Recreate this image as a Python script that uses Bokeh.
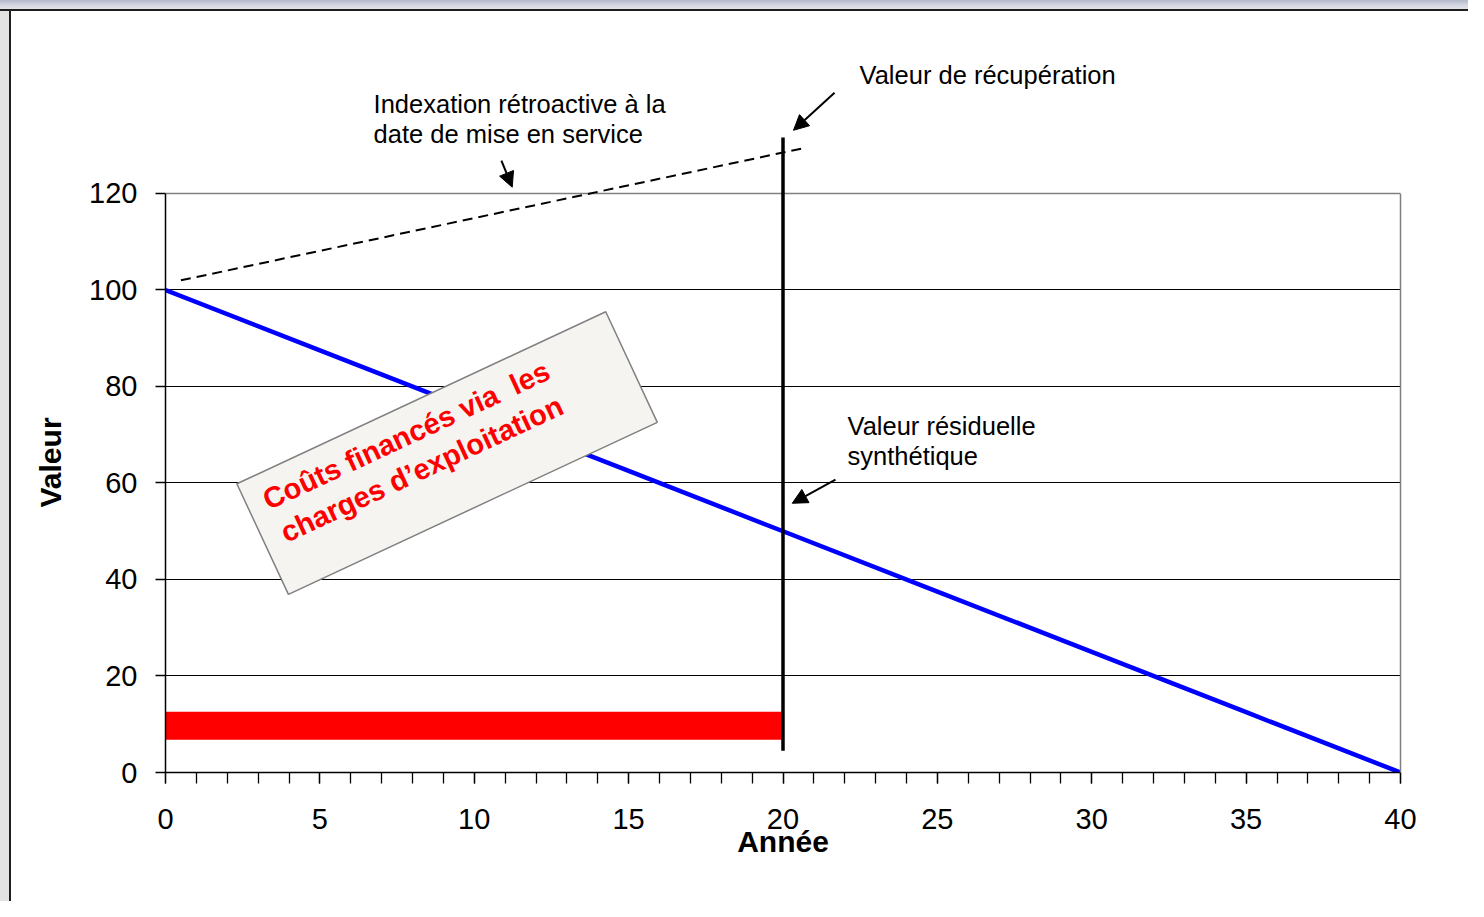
from bokeh.plotting import figure
from bokeh.models import (Label, Arrow, NormalHead, SingleIntervalTicker, FixedTicker,
                          Range1d, LinearAxis, Grid, Title)
from bokeh.embed import file_html
from bokeh.resources import INLINE

# ---- data ----
years = [0, 5, 10, 15, 20, 25, 30, 35, 40]
synthetic_value = [100, 87.5, 75, 62.5, 50, 37.5, 25, 12.5, 0]

index_years = [0.5, 20.6]
index_values = [102.0, 129.3]

cost_start = [0]
cost_end = [20]
cost_low = [6.8]
cost_high = [12.6]

recovery_years = [20, 20]
recovery_span = [4.5, 131.6]

x_tick_labels = ["0", "5", "10", "15", "20", "25", "30", "35", "40"]
y_tick_labels = ["0", "20", "40", "60", "80", "100", "120"]

FONT = "Liberation Sans"

p = figure(width=1468, height=901, x_range=Range1d(0, 40), y_range=Range1d(0, 151.5),
           output_backend="svg", toolbar_location=None,
           min_border_left=165, min_border_right=68, min_border_top=41, min_border_bottom=129)
p.styles = {
    "background-color": "white",
    "background-image": (
        "linear-gradient(to bottom, #b3b7c9 0px, #d4d6e0 5px, #e2e2e8 9px, #1e1e1e 9px, "
        "#1e1e1e 11px, rgba(255,255,255,0) 11px), "
        "linear-gradient(to right, #e2e2e2 0px, #e2e2e2 9px, #1e1e1e 9px, #1e1e1e 11px, "
        "rgba(255,255,255,0) 11px)"
    ),
}
p.background_fill_color = None
p.border_fill_color = None
p.outline_line_color = None

# grid
p.xgrid.visible = False
p.ygrid.ticker = FixedTicker(ticks=[20, 40, 60, 80, 100])
p.ygrid.grid_line_color = "#000000"
p.ygrid.grid_line_width = 1.2
p.add_layout(Grid(dimension=1, ticker=FixedTicker(ticks=[120]),
                  grid_line_color="#808080", grid_line_width=1.5))

# axes
xa = p.xaxis[0]
xa.ticker = SingleIntervalTicker(interval=5, num_minor_ticks=5)
xa.major_label_overrides = {i * 5: t for i, t in enumerate(x_tick_labels)}
xa.axis_line_color = "black"
xa.axis_line_width = 1.5
xa.major_tick_out = 11
xa.major_tick_in = 0
xa.minor_tick_out = 11
xa.minor_tick_in = 0
xa.major_tick_line_color = "black"
xa.minor_tick_line_color = "black"
xa.major_tick_line_width = 1.3
xa.minor_tick_line_width = 1.3
xa.major_label_text_font = FONT
xa.major_label_text_font_size = "29px"
xa.major_label_text_color = "black"
xa.major_label_standoff = 25
xa.axis_label = "Année"
xa.axis_label_text_font = FONT
xa.axis_label_text_font_style = "bold"
xa.axis_label_text_font_size = "30px"
xa.axis_label_text_color = "black"
xa.axis_label_standoff = -7

ya = p.yaxis[0]
ya.bounds = (0, 120)
ya.ticker = SingleIntervalTicker(interval=20, num_minor_ticks=0)
ya.major_label_overrides = {i * 20: t for i, t in enumerate(y_tick_labels)}
ya.axis_line_color = "black"
ya.axis_line_width = 1.5
ya.major_tick_out = 10
ya.major_tick_in = 0
ya.minor_tick_out = 0
ya.minor_tick_in = 0
ya.major_tick_line_color = "black"
ya.major_tick_line_width = 1.3
ya.major_label_text_font = FONT
ya.major_label_text_font_size = "29px"
ya.major_label_text_color = "black"
ya.major_label_standoff = 18

# y axis title, centred on the 0-120 part of the axis
p.add_layout(Title(text="Valeur", align="left", offset=265, standoff=40,
                   text_font=FONT, text_font_style="bold", text_font_size="30px",
                   text_color="black"), "left")

# right border of the plot area (gray)
right = LinearAxis(bounds=(0, 120), ticker=FixedTicker(ticks=[]),
                   axis_line_color="#808080", axis_line_width=1.5,
                   major_tick_out=0, major_tick_in=0, minor_tick_out=0, minor_tick_in=0)
p.add_layout(right, "right")

# red cost bar
p.quad(left=cost_start, right=cost_end, bottom=cost_low, top=cost_high,
       fill_color="#ff0000", line_color=None)

# blue synthetic residual value line
p.line(years, synthetic_value, line_color="#0000ff", line_width=4.5)

# rotated annotation box
p.rect(x=[9.12], y=[66.2], width=[407], height=[122], width_units="screen", height_units="screen",
       angle=25, angle_units="deg", fill_color="#f5f4f1", line_color="#808080", line_width=1.5)

p.add_layout(Label(x=7.8, y=69.9, text="Coûts financés via\u00a0 les", angle=25, angle_units="deg",
                   text_align="center", text_baseline="middle", text_color="#ff0000",
                   text_font=FONT, text_font_style="bold", text_font_size="29px"))
p.add_layout(Label(x=8.3, y=62.9, text="charges d\u2019exploitation", angle=25, angle_units="deg",
                   text_align="center", text_baseline="middle", text_color="#ff0000",
                   text_font=FONT, text_font_style="bold", text_font_size="29px"))

# dashed indexation line
p.line(index_years, index_values, line_color="black", line_width=2, line_dash="10 6")

# vertical recovery line
p.line(recovery_years, recovery_span, line_color="black", line_width=3.5)

# pointer arrows
for xs, ys, xe, ye in [(21.67, 140.9, 20.34, 133.1),
                       (10.88, 126.8, 11.23, 121.3),
                       (21.70, 60.7, 20.30, 55.8)]:
    p.add_layout(Arrow(end=NormalHead(size=15, fill_color="black", line_color="black"),
                       x_start=xs, y_start=ys, x_end=xe, y_end=ye,
                       line_color="black", line_width=2))

# text annotations
def txt(x, y, s):
    p.add_layout(Label(x=x, y=y, text=s, text_align="left", text_baseline="middle",
                       text_color="black", text_font=FONT, text_font_size="25.5px"))

txt(6.74, 138.6, "Indexation rétroactive à la")
txt(6.74, 132.4, "date de mise en service")
txt(22.48, 144.5, "Valeur de récupération")
txt(22.09, 71.9, "Valeur résiduelle")
txt(22.09, 65.5, "synthétique")

open("out.html", "w").write(file_html(p, INLINE))
